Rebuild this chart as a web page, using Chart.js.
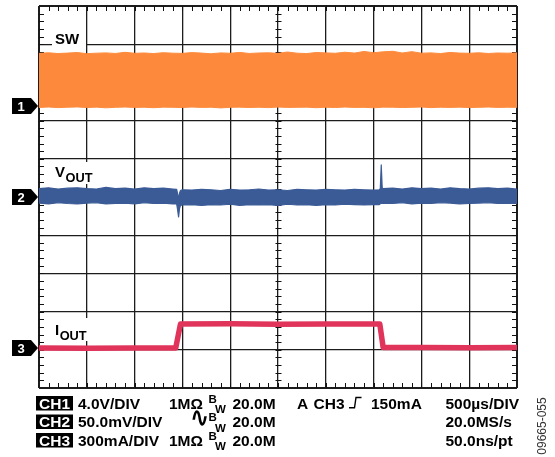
<!DOCTYPE html>
<html>
<head>
<meta charset="utf-8">
<script src="https://cdn.jsdelivr.net/npm/chart.js@4/dist/chart.umd.min.js"></script>
<style>
html,body{margin:0;padding:0;background:#fff;}
canvas{display:block;}
</style>
</head>
<body>
<canvas id="c" width="555" height="457"></canvas>
<script>
// ---------- DATA ----------
// Channel settings: units/div (V, mV, mA) and ground-marker position in divisions from bottom
const chNames = ['SW', 'VOUT', 'IOUT'];
const chScale = [4, 50, 300];
const chPos = [7.38, 5.0, 1.047];
const xRangeMs = [0, 5];          // 500 us/div, 10 divisions
const yDivs = 10;

// CH1: SW node, envelope of switching waveform (V)
const timeSW = [0,0.1,0.2,0.3,0.4,0.5,0.6,0.7,0.8,0.9,1.0,1.1,1.2,1.3,1.4,1.5,1.6,1.7,1.8,1.9,2.0,2.1,2.2,2.3,2.4,2.5,2.6,2.7,2.8,2.9,3.0,3.1,3.2,3.3,3.4,3.5,3.6,3.7,3.8,3.9,4.0,4.1,4.2,4.3,4.4,4.5,4.6,4.7,4.8,4.9,5.0];
const swHigh = [5.52,5.58,5.50,5.55,5.61,5.49,5.54,5.57,5.51,5.63,5.53,5.56,5.50,5.59,5.54,5.52,5.60,5.55,5.48,5.57,5.53,5.62,5.51,5.56,5.58,5.52,5.66,5.54,5.50,5.61,5.57,5.53,5.64,5.55,5.72,5.59,5.68,5.74,5.56,5.70,5.54,5.57,5.50,5.62,5.55,5.53,5.58,5.51,5.56,5.54,5.57];
const swLow = [-0.14,-0.10,-0.16,-0.12,-0.09,-0.15,-0.11,-0.18,-0.13,-0.10,-0.14,-0.12,-0.17,-0.11,-0.13,-0.15,-0.10,-0.14,-0.12,-0.19,-0.13,-0.11,-0.15,-0.12,-0.16,-0.10,-0.14,-0.13,-0.11,-0.17,-0.12,-0.15,-0.10,-0.14,-0.13,-0.18,-0.11,-0.12,-0.15,-0.13,-0.10,-0.16,-0.12,-0.14,-0.11,-0.15,-0.13,-0.10,-0.14,-0.12,-0.13];

// CH2: VOUT (AC coupled), noise envelope (mV)
const timeVout = [0,0.1,0.2,0.3,0.4,0.5,0.6,0.7,0.8,0.9,1.0,1.1,1.2,1.3,1.4,1.44,1.45,1.46,1.47,1.48,1.5,1.6,1.7,1.8,1.9,2.0,2.1,2.2,2.3,2.4,2.5,2.6,2.7,2.8,2.9,3.0,3.1,3.2,3.3,3.4,3.5,3.56,3.57,3.58,3.59,3.6,3.7,3.8,3.9,4.0,4.1,4.2,4.3,4.4,4.5,4.6,4.7,4.8,4.9,5.0];
const voutHigh = [11,12,10.5,11.5,12,11,10.5,12.5,11,11.5,10.5,12,11,11.5,10.5, 10,4,-3,5,8.5, 9.5,9,10,9.5,8.5,10,9,9.5,10.5,9,9.5,8.5,10,9.5,9,10,9.5,9,10,9.5,9, 9.5,11,42,12, 11,11.5,10.5,12,11,11.5,10.5,12,11,10.5,11.5,12,11,11.5,10.5];
const voutLow = [-8,-9,-7.5,-8.5,-9,-8,-7.5,-9,-8.5,-8,-9,-7.5,-8.5,-8,-9, -9,-17,-26,-15,-11, -10.5,-10,-11,-10,-10.5,-9.5,-11,-10,-10.5,-10,-11,-9.5,-10.5,-10,-11,-10,-10.5,-9.5,-10,-10.5,-10, -10,-9,-8,-8.5, -8,-8.5,-7.5,-9,-8,-8.5,-7.5,-8,-9,-8.5,-8,-7.5,-8.5,-8,-8.5];

// CH3: IOUT load step (mA)
const timeIout = [0,0.5,1.0,1.43,1.48,2.0,2.5,3.0,3.5,3.565,3.60,4.0,4.5,5.0];
const ioutVals = [0,-2,1,0,188,190,187,189,188,188,4,3,2,3];

// ---------- STYLE ----------
const SW_COLOR = '#FD8A3C';
const VOUT_COLOR = '#3B5B97';
const IOUT_COLOR = '#E0345A';
const FONT = '"Liberation Sans", Arial, Helvetica, sans-serif';

const pts = (ts, vs) => ts.map((t, i) => ({x: t, y: vs[i]}));
const chAxis = i => ({type: 'linear', display: false, min: -chPos[i] * chScale[i], max: (yDivs - chPos[i]) * chScale[i]});
const gridW = c => (c.index === 0 || c.index === c.scale.ticks.length - 1) ? 2 : 1.3;

function txt(ctx, s, x, y, font, color) {
  ctx.font = font; ctx.fillStyle = color || '#000'; ctx.fillText(s, x, y);
  return ctx.measureText(s).width;
}

const scopeDecor = {
  id: 'scopeDecor',
  beforeDatasetsDraw(chart) {
    const {ctx, chartArea: a, scales} = chart;
    const x = scales.x, yg = scales.yg;
    const cx = Math.round(x.getPixelForValue(2.5)) + 0.5;
    const cy = Math.round(yg.getPixelForValue(5)) + 0.5;
    ctx.save();
    ctx.strokeStyle = '#111';
    ctx.lineWidth = 1;
    ctx.beginPath();
    for (let k = 1; k < 50; k++) {
      const px = Math.round(x.getPixelForValue(k * 0.1)) + 0.5;
      ctx.moveTo(px, a.top); ctx.lineTo(px, a.top + 5);
      ctx.moveTo(px, a.bottom); ctx.lineTo(px, a.bottom - 5);
      ctx.moveTo(px, cy - 3); ctx.lineTo(px, cy + 3);
    }
    for (let k = 1; k < 50; k++) {
      const py = Math.round(yg.getPixelForValue(k * 0.2)) + 0.5;
      ctx.moveTo(a.left, py); ctx.lineTo(a.left + 5, py);
      ctx.moveTo(a.right, py); ctx.lineTo(a.right - 5, py);
      ctx.moveTo(cx - 3, py); ctx.lineTo(cx + 3, py);
    }
    ctx.stroke();
    ctx.restore();
  },
  afterDraw(chart) {
    const {ctx, chartArea: a, scales} = chart;
    ctx.save();
    ctx.textBaseline = 'alphabetic';
    // channel labels with white backing
    const L = a.left + 16;
    ctx.fillStyle = '#fff';
    ctx.fillRect(a.left + 13, 29, 34, 18);
    ctx.fillRect(a.left + 13, 162, 43, 22);
    ctx.fillRect(a.left + 13, 318, 38, 23);
    txt(ctx, 'SW', L, 43.5, 'bold 15px ' + FONT);
    let w = txt(ctx, 'V', L, 176.7, 'bold 15px ' + FONT);
    txt(ctx, 'OUT', L + w + 0.5, 181.7, 'bold 12.8px ' + FONT);
    w = txt(ctx, 'I', L, 335, 'bold 15px ' + FONT);
    txt(ctx, 'OUT', L + w + 0.5, 340, 'bold 12.8px ' + FONT);

    // ground markers from each channel's own scale
    ['y1', 'y2', 'y3'].forEach((id, i) => {
      const py = scales[id].getPixelForValue(0);
      ctx.fillStyle = '#000';
      ctx.beginPath();
      ctx.moveTo(12, py - 8); ctx.lineTo(31, py - 8); ctx.lineTo(38, py);
      ctx.lineTo(31, py + 8); ctx.lineTo(12, py + 8); ctx.closePath();
      ctx.fill();
      ctx.textAlign = 'center';
      txt(ctx, String(i + 1), 21, py + 5, 'bold 13px ' + FONT, '#fff');
      ctx.textAlign = 'left';
    });

    // bottom readout
    const B = 'bold 15.5px ' + FONT;
    const S = 'bold 11.5px ' + FONT;
    const rows = [408.5, 427, 445.5];
    ['CH1', 'CH2', 'CH3'].forEach((s, i) => {
      const by = rows[i];
      ctx.fillStyle = '#000';
      ctx.fillRect(36, by - 12.5, 37, 14.5);
      ctx.textAlign = 'center';
      txt(ctx, s, 54.5, by, B, '#fff');
      ctx.textAlign = 'left';
    });
    txt(ctx, '4.0V/DIV', 78, rows[0], B);
    txt(ctx, '50.0mV/DIV', 78, rows[1], B);
    txt(ctx, '300mA/DIV', 78, rows[2], B);
    txt(ctx, '1MΩ', 169, rows[0], B);
    txt(ctx, '1MΩ', 169, rows[2], B);
    ctx.save();
    ctx.translate(190, rows[1] - 5);
    ctx.scale(1, 1.25);
    txt(ctx, '∿', 0, 4, 'bold 23px "DejaVu Sans", sans-serif');
    ctx.restore();
    rows.forEach(by => {
      txt(ctx, 'B', 208.6, by - 6, S);
      txt(ctx, 'W', 215, by + 4.6, S);
      txt(ctx, '20.0M', 232.5, by, B);
    });
    txt(ctx, 'A', 297, rows[0], B);
    txt(ctx, 'CH3', 313.5, rows[0], B);
    // trigger slope glyph
    ctx.strokeStyle = '#000'; ctx.lineWidth = 1.4;
    ctx.beginPath();
    ctx.moveTo(349, rows[0] - 0.7); ctx.lineTo(354.5, rows[0] - 0.7);
    ctx.lineTo(356, rows[0] - 11); ctx.lineTo(361.5, rows[0] - 11);
    ctx.stroke();
    txt(ctx, '150mA', 371, rows[0], B);
    txt(ctx, '500µs/DIV', 445.5, rows[0], B);
    txt(ctx, '20.0MS/s', 445.5, rows[1], B);
    txt(ctx, '50.0ns/pt', 445.5, rows[2], B);

    // figure id, rotated
    ctx.translate(543, 426);
    ctx.rotate(-Math.PI / 2);
    ctx.textAlign = 'center';
    ctx.textBaseline = 'middle';
    txt(ctx, '09665-055', 0, 0, '12px ' + FONT, '#333');
    ctx.restore();
  }
};

const common = {pointRadius: 0, tension: 0, borderJoinStyle: 'round'};

new Chart(document.getElementById('c'), {
  type: 'line',
  data: {
    datasets: [
      Object.assign({label: 'SW max', data: pts(timeSW, swHigh), yAxisID: 'y1', borderColor: SW_COLOR, borderWidth: 1, fill: false}, common),
      Object.assign({label: 'SW min', data: pts(timeSW, swLow), yAxisID: 'y1', borderColor: SW_COLOR, backgroundColor: SW_COLOR, borderWidth: 1, fill: '-1'}, common),
      Object.assign({label: 'VOUT max', data: pts(timeVout, voutHigh), yAxisID: 'y2', borderColor: VOUT_COLOR, borderWidth: 1.2, fill: false}, common),
      Object.assign({label: 'VOUT min', data: pts(timeVout, voutLow), yAxisID: 'y2', borderColor: VOUT_COLOR, backgroundColor: VOUT_COLOR, borderWidth: 1.2, fill: '-1'}, common),
      Object.assign({label: 'IOUT', data: pts(timeIout, ioutVals), yAxisID: 'y3', borderColor: IOUT_COLOR, borderWidth: 5.5, fill: false}, common)
    ]
  },
  options: {
    responsive: false,
    animation: false,
    events: [],
    layout: {padding: {left: 39, top: 6, right: 38, bottom: 69}},
    plugins: {legend: {display: false}, tooltip: {enabled: false}, title: {display: false}},
    scales: {
      x: {type: 'linear', min: xRangeMs[0], max: xRangeMs[1],
          ticks: {display: false, stepSize: 0.5},
          grid: {color: '#1c1c1c', lineWidth: gridW, drawTicks: false},
          border: {display: false}},
      yg: {type: 'linear', position: 'left', min: 0, max: yDivs,
          ticks: {display: false, stepSize: 1},
          grid: {color: '#1c1c1c', lineWidth: gridW, drawTicks: false},
          border: {display: false}},
      y1: chAxis(0),
      y2: chAxis(1),
      y3: chAxis(2)
    }
  },
  plugins: [scopeDecor]
});
</script>
</body>
</html>
